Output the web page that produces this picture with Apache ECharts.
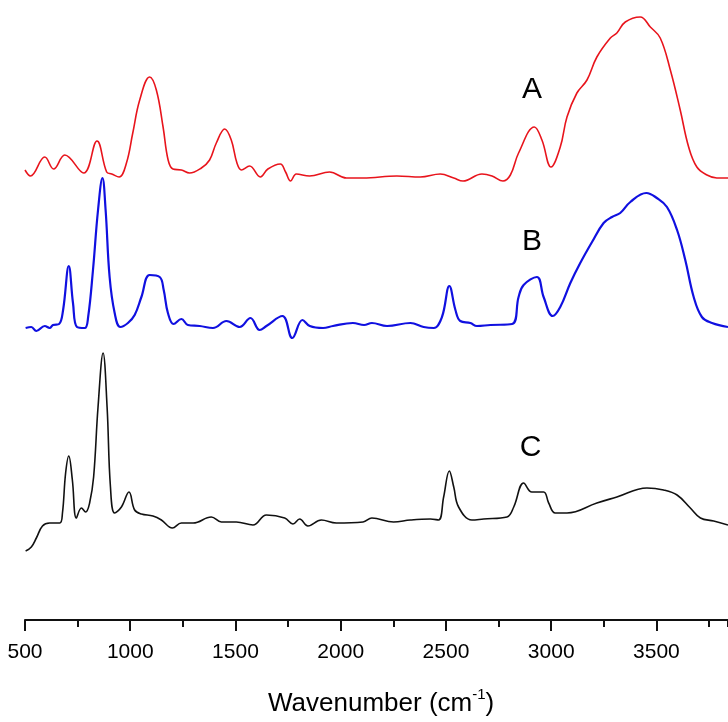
<!DOCTYPE html>
<html>
<head>
<meta charset="utf-8">
<script src="https://cdn.jsdelivr.net/npm/echarts@6/dist/echarts.min.js"></script>
<style>
  html, body { margin: 0; padding: 0; background: #fff; }
  #chart { width: 728px; height: 722px; }
</style>
</head>
<body>
<div id="chart"></div>
<script>
  // wavenumber (cm-1) and offset absorbance
  const wnA = [500, 526, 594, 636, 689, 779, 842, 888, 912, 947, 982, 1012, 1045, 1092, 1124, 1156, 1180, 1203, 1243, 1282, 1338, 1377, 1409, 1449, 1480, 1507, 1528, 1567, 1618, 1654, 1713, 1738, 1762, 1789, 1852, 1947, 2027, 2106, 2267, 2378, 2473, 2537, 2581, 2671, 2719, 2771, 2806, 2845, 2920, 2956, 2999, 3043, 3075, 3122, 3170, 3217, 3281, 3312, 3352, 3423, 3471, 3518, 3566, 3613, 3653, 3692, 3740, 3787, 3840];
  const absA = [4.50, 4.44, 4.63, 4.51, 4.65, 4.47, 4.79, 4.48, 4.46, 4.43, 4.57, 4.87, 5.20, 5.43, 5.30, 4.93, 4.60, 4.51, 4.50, 4.47, 4.52, 4.60, 4.77, 4.91, 4.80, 4.57, 4.50, 4.54, 4.43, 4.51, 4.56, 4.48, 4.39, 4.46, 4.44, 4.48, 4.42, 4.42, 4.44, 4.43, 4.46, 4.42, 4.39, 4.46, 4.44, 4.39, 4.45, 4.67, 4.93, 4.80, 4.53, 4.73, 5.03, 5.27, 5.40, 5.63, 5.82, 5.87, 5.98, 6.03, 5.93, 5.82, 5.50, 5.10, 4.73, 4.53, 4.45, 4.42, 4.42];

  const wnB = [503, 530, 554, 594, 617, 633, 662, 681, 708, 728, 747, 784, 800, 823, 847, 868, 883, 902, 926, 953, 989, 1021, 1053, 1092, 1140, 1159, 1179, 1206, 1243, 1274, 1330, 1393, 1457, 1520, 1571, 1615, 1647, 1723, 1770, 1818, 1853, 1916, 1963, 2058, 2111, 2148, 2220, 2331, 2394, 2442, 2481, 2516, 2545, 2568, 2616, 2647, 2711, 2814, 2845, 2869, 2932, 2964, 3007, 3043, 3091, 3138, 3194, 3249, 3289, 3328, 3376, 3452, 3502, 3550, 3598, 3637, 3677, 3716, 3764, 3840];
  const absB = [2.92, 2.93, 2.89, 2.94, 2.92, 2.95, 2.96, 3.10, 3.54, 3.17, 2.93, 2.92, 3.03, 3.50, 4.10, 4.42, 4.10, 3.43, 3.07, 2.93, 2.97, 3.05, 3.23, 3.45, 3.43, 3.30, 3.07, 2.96, 3.01, 2.95, 2.94, 2.92, 2.99, 2.93, 3.02, 2.90, 2.94, 3.04, 2.82, 3.00, 2.94, 2.92, 2.94, 2.97, 2.95, 2.97, 2.94, 2.97, 2.93, 2.92, 3.03, 3.34, 3.10, 2.99, 2.97, 2.94, 2.95, 2.96, 3.23, 3.35, 3.43, 3.23, 3.04, 3.13, 3.37, 3.57, 3.78, 3.97, 4.03, 4.07, 4.18, 4.27, 4.22, 4.13, 3.90, 3.60, 3.23, 3.03, 2.97, 2.93];

  const wnC = [503, 530, 554, 583, 617, 665, 678, 693, 708, 725, 744, 768, 788, 807, 826, 847, 871, 890, 906, 926, 958, 994, 1021, 1053, 1108, 1148, 1200, 1243, 1299, 1385, 1433, 1504, 1583, 1647, 1734, 1773, 1805, 1844, 1908, 1979, 2106, 2148, 2251, 2331, 2426, 2465, 2489, 2516, 2537, 2560, 2623, 2679, 2790, 2822, 2869, 2908, 2964, 2988, 3019, 3075, 3217, 3312, 3455, 3534, 3598, 3661, 3709, 3772, 3840];
  const absC = [0.69, 0.73, 0.82, 0.94, 0.97, 0.97, 1.07, 1.47, 1.64, 1.40, 1.02, 1.12, 1.08, 1.17, 1.43, 2.13, 2.67, 2.13, 1.33, 1.07, 1.13, 1.28, 1.10, 1.06, 1.04, 1.00, 0.92, 0.97, 0.97, 1.03, 0.98, 0.98, 0.95, 1.05, 1.02, 0.96, 1.01, 0.94, 1.00, 0.97, 0.98, 1.02, 0.98, 1.00, 1.01, 1.00, 1.23, 1.49, 1.33, 1.13, 1.00, 1.01, 1.03, 1.13, 1.37, 1.28, 1.28, 1.17, 1.07, 1.07, 1.17, 1.23, 1.32, 1.30, 1.25, 1.12, 1.02, 0.99, 0.95];

  const names = ['A', 'B', 'C'];
  const colors = ['#e8141c', '#1010e0', '#111111'];
  const labelAt = [[2909, 5.30], [2909, 3.78], [2902, 1.72]];

  const zip = (xs, ys) => xs.map((x, i) => [x, ys[i]]);
  const curves = [zip(wnA, absA), zip(wnB, absB), zip(wnC, absC)];
  const font = 'Liberation Sans, Arial, sans-serif';
  const xMin = 500, xMax = 3840;

  const chart = echarts.init(document.getElementById('chart'));
  const option = {
    animation: false,
    backgroundColor: '#ffffff',
    title: {
      left: 268,
      top: 687,
      padding: 0,
      text: '{t|Wavenumber (cm}{s|-1}{t|)}',
      textStyle: {
        fontWeight: 'normal',
        rich: {
          t: { fontFamily: font, fontSize: 26, lineHeight: 26, padding: [8, 0, 0, 0], fontWeight: 'normal', color: '#000' },
          s: { fontFamily: font, fontSize: 15, lineHeight: 15, fontWeight: 'normal', color: '#000', verticalAlign: 'top' }
        }
      }
    },
    grid: { left: 25, top: 0, right: 0, height: 620 },
    xAxis: [
      {
        type: 'value',
        min: xMin,
        max: xMax,
        interval: 500,
        splitLine: { show: false },
        axisLine: { lineStyle: { color: '#111', width: 2 } },
        axisTick: { length: 11, lineStyle: { color: '#111', width: 2 } },
        axisLabel: {
          color: '#000',
          fontSize: 21,
          fontFamily: font,
          margin: 22,
          showMaxLabel: false,
          formatter: v => (v % 500 === 0 ? String(v) : '')
        }
      },
      {
        // minor ticks every 250
        type: 'value',
        position: 'bottom',
        min: xMin,
        max: xMax,
        interval: 250,
        splitLine: { show: false },
        axisLine: { show: false },
        axisTick: { length: 7, lineStyle: { color: '#111', width: 2 } },
        axisLabel: { show: false }
      }
    ],
    yAxis: {
      type: 'value',
      min: 0,
      max: 6.2,
      show: false
    },
    series: curves.map((d, i) => ({
      name: names[i],
      type: 'line',
      xAxisIndex: 0,
      data: d,
      smooth: 0.4,
      symbol: 'none',
      lineStyle: { color: colors[i], width: i === 1 ? 2.2 : 1.6 },
      markPoint: {
        symbol: 'circle',
        symbolSize: 0,
        data: [{ coord: labelAt[i] }],
        label: {
          show: true,
          position: 'inside',
          formatter: names[i],
          fontSize: 30,
          fontFamily: font,
          color: '#000'
        }
      }
    }))
  };
  chart.setOption(option);
</script>
</body>
</html>
